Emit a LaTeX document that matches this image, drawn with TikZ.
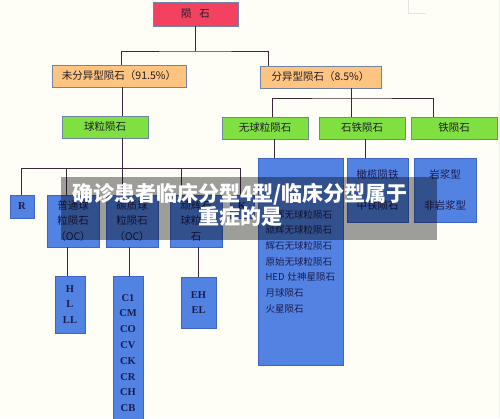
\documentclass[tikz,border=0pt]{standalone}
\usepackage{fontspec}
\setmainfont{Liberation Serif}
\newfontfamily\cjk{Noto Sans CJK SC}
\usetikzlibrary{calc, positioning}
\definecolor{paper}{RGB}{254,254,247}
\definecolor{rootred}{RGB}{242,66,96}
\definecolor{classpeach}{RGB}{255,196,128}
\definecolor{groupgreen}{RGB}{128,224,66}
\definecolor{typeblue}{RGB}{82,130,226}
\definecolor{typeedge}{RGB}{62,100,196}
\definecolor{boxline}{RGB}{112,132,168}
\definecolor{linkcol}{RGB}{58,40,58}
\definecolor{ink}{RGB}{30,30,40}
\definecolor{navy}{RGB}{28,28,76}

\tikzset{
  box/.style={draw=boxline, line width=0.8pt, inner sep=0pt, text=ink,
    font=\cjk\fontsize{10.5}{13}\selectfont},
  rootbox/.style={box, fill=rootred, minimum width=85, minimum height=24},
  classbox/.style={box, fill=classpeach, minimum height=22},
  groupbox/.style={box, fill=groupgreen, minimum width=86, minimum height=22},
  typebox/.style={box, fill=typeblue, draw=typeedge, text=navy, align=center,
    font=\cjk\fontsize{10.5}{15.5}\selectfont},
  codebox/.style={typebox, font=\bfseries\fontsize{10.5}{15.8}\selectfont},
  link/.style={draw=linkcol, line width=1pt},
}

\begin{document}
\begin{tikzpicture}[x=1pt, y=-1pt]
  \useasboundingbox (0,0) rectangle (500,418);
  \fill[paper] (0,0) rectangle (500,418);
  \draw[black!10] (408,0) -- (408,13) -- (426,13);
  \draw[black!6] (499,0) -- (499,418);

  % top levels
  \node[rootbox] (meteorite) at (195.5,14) {陨\hspace{8pt}石};
  \node[classbox, minimum width=134] (undiff) at (119,76) {未分异型陨石（91.5\%）};
  \node[classbox, minimum width=121] (diff) at (320.5,77) {分异型陨石（8.5\%）};
  \node[groupbox] (chondrite) at (105,127) {球粒陨石};
  \node[groupbox] (achondrite) at (265,128) {无球粒陨石};
  \node[groupbox] (stonyiron) at (362,128) {石铁陨石};
  \node[groupbox] (iron) at (454,128) {铁陨石};

  % chondrite groups
  \node[codebox, minimum width=24, minimum height=23] (r) at (22,206.5) {R};
  \node[typebox, minimum width=52, minimum height=52] (oc) at (73,221) {普通球\\粒陨石\\（OC）};
  \node[typebox, minimum width=52, minimum height=52] (cc) at (132,221) {碳质球\\粒陨石\\（OC）};
  \node[typebox, minimum width=52, minimum height=52] (ec) at (196,221) {顽辉石\\球粒陨\\石};
  \node[codebox, minimum width=24, minimum height=23] (k) at (242,206.5) {K};
  \node[codebox, minimum width=30, minimum height=57] (ocsub) at (70,304.5) {H\\L\\LL};
  \node[codebox, minimum width=30, minimum height=154] (ccsub) at (128,353) {C1\\CM\\CO\\CV\\CK\\CR\\CH\\CB};
  \node[codebox, minimum width=35, minimum height=51] (ecsub) at (198.5,302.5) {EH\\EL};

  % differentiated groups
  \node[typebox, minimum width=85, minimum height=207, text width=70, align=left,
    font=\cjk\fontsize{9.5}{15.7}\selectfont] (achsub) at (300.5,261.5)
    {橄辉无球粒陨石\\顽辉无球粒陨石\\辉石无球粒陨石\\原始无球粒陨石\\HED 灶神星陨石\\月球陨石\\火星陨石};
  \node[typebox, minimum width=61, minimum height=64] (sisub) at (377.5,190) {橄榄陨铁\\[16pt]中铁陨石};
  \node[typebox, minimum width=62, minimum height=64] (ironsub) at (445,190) {岩浆型\\[16pt]非岩浆型};

  % connectors
  \coordinate (bus1) at (195.5,51);
  \coordinate (bus2) at (351,98);
  \coordinate (bus3) at (122,168);
  \draw[link] (meteorite.south) -- (bus1);
  \draw[link] ([xshift=2]undiff.north) |- (bus1) -| ([xshift=-52.5]diff.north);
  \draw[link] ([xshift=3]undiff.south) -- ([xshift=17]chondrite.north);
  \draw[link] ([xshift=30.5]diff.south) -- ([xshift=-11]stonyiron.north);
  \draw[link] ([xshift=7]achondrite.north) |- (bus2) -| ([xshift=-21]iron.north);
  \draw[link] ([xshift=17]chondrite.south) -- ([xshift=-10]cc.north);
  \draw[link] ([xshift=-1]r.north) |- (bus3) -| ([xshift=-2]k.north);
  \draw[link] ([xshift=-7]oc.north) |- (bus3);
  \draw[link] ([xshift=-15]ec.north) |- (bus3);
  \draw[link] ([xshift=-6]oc.south) -- ([xshift=-3]ocsub.north);
  \draw[link] ([xshift=-3]cc.south) -- ([xshift=1]ccsub.north);
  \draw[link] ([xshift=2]ec.south) -- ([xshift=-0.5]ecsub.north);
  \draw[link] ([xshift=9]achondrite.south) -- ([xshift=-26.5]achsub.north);
  \draw[link] ([xshift=3]stonyiron.south) -- ([xshift=-12.5]sisub.north);

  % caption banner
  \fill[black, opacity=0.38] (61,177) rectangle (437,240);
  \node[text=white, align=center, font=\cjk\bfseries\fontsize{21}{23}\selectfont] (caption) at (240,205)
    {确诊患者临床分型4型/临床分型属于\\重症的是};
\end{tikzpicture}
\end{document}
